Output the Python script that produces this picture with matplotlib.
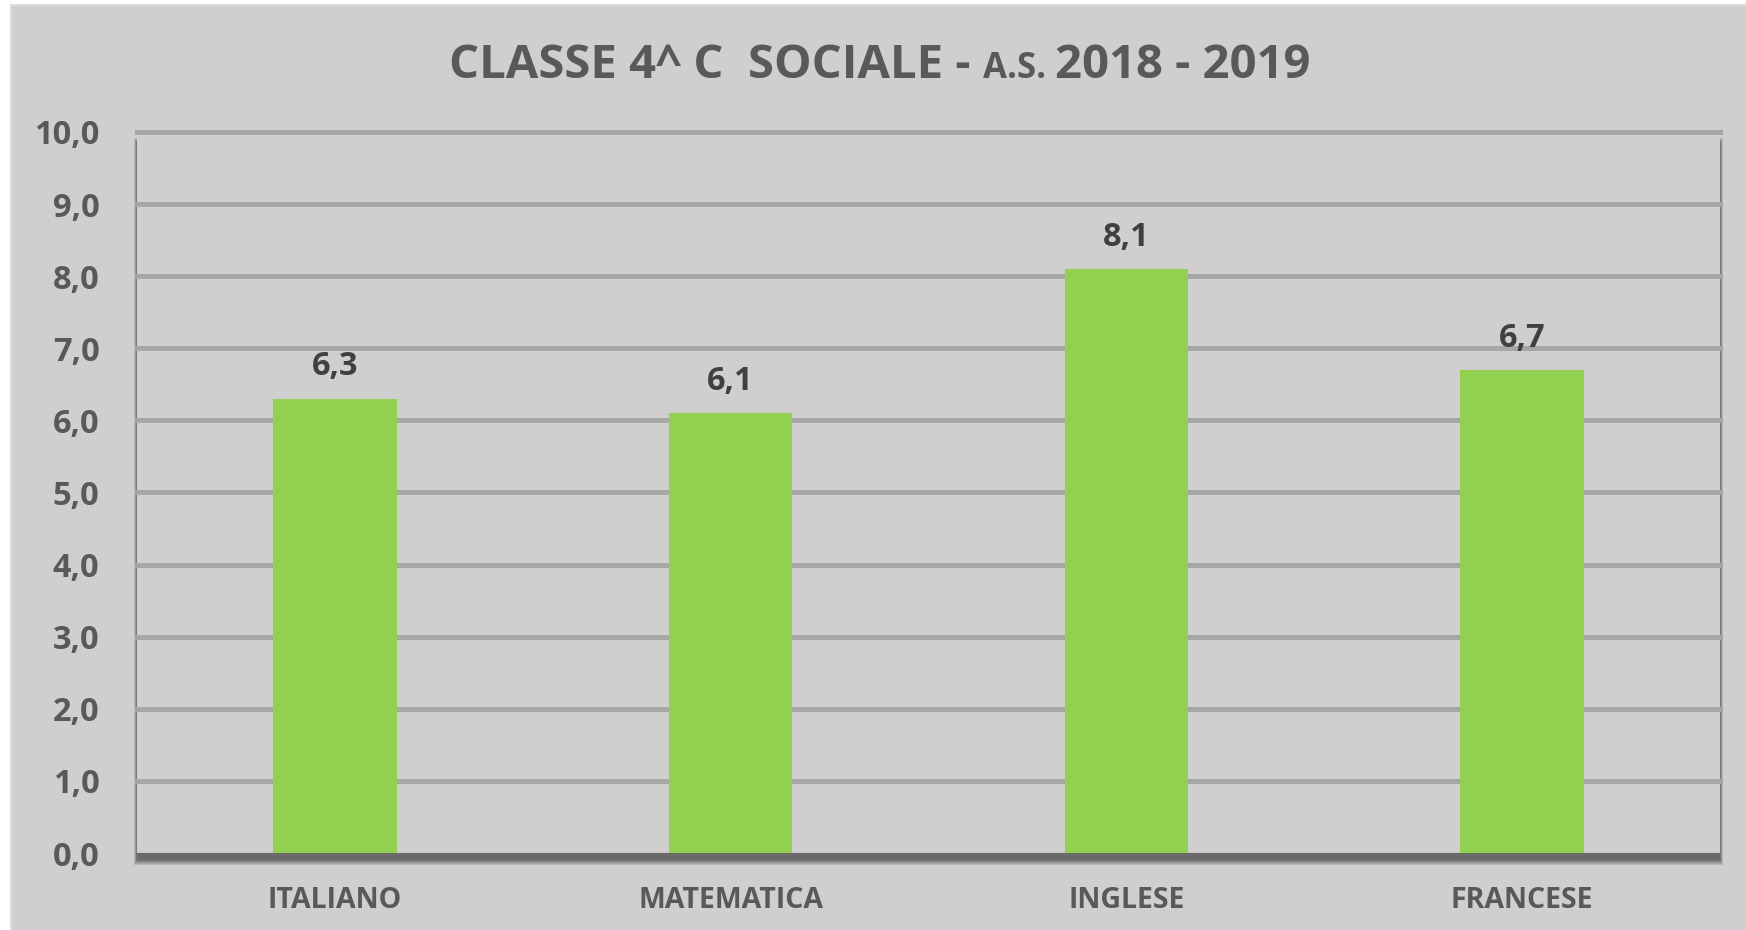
import matplotlib
matplotlib.use("Agg")
import matplotlib.pyplot as plt
from matplotlib.patches import Rectangle
from matplotlib.transforms import IdentityTransform

categories = ["ITALIANO", "MATEMATICA", "INGLESE", "FRANCESE"]
values = [6.3, 6.1, 8.1, 6.7]
yticks = [0, 1, 2, 3, 4, 5, 6, 7, 8, 9, 10]

BG = "#d0cecf"
TXT = "#595959"
VAL = "#404040"
BAR = "#92d050"
GRID = "#a6a6a6"
FONT = "Open Sans"
FW, FH = 1746, 930

def fmt(v):
    return f"{v:.1f}".replace(".", ",")

fig = plt.figure(figsize=(FW / 100, FH / 100), dpi=100, facecolor="white")

# chart area background with light border
fig.patches.append(Rectangle((11, -5), FW, FH, transform=IdentityTransform(),
                             facecolor=BG, edgecolor="#dedcdd", lw=1.5, zorder=-10))

# plot area in image pixels
L, R, T, B = 137, 1720, 132, 853

# soft drop shadow (layers)
for k in range(6):
    ex = 0.6 * k
    fig.patches.append(Rectangle((L - ex, FH - (B + 7) - k), (R - L) + 2 * ex,
                                 (B - T) - 4 + 2 * k, transform=IdentityTransform(),
                                 facecolor="black", alpha=0.10, edgecolor="none", zorder=-9))

ax = fig.add_axes([L / FW, 1 - B / FH, (R - L) / FW, (B - T) / FH])
ax.set_facecolor(BG)
ax.set_axisbelow(True)

x = list(range(len(categories)))
ax.bar(x, values, width=0.312, color=BAR, zorder=3)

for xi, v in zip(x, values):
    ax.annotate(fmt(v), (xi, v), xytext=(0, 11), textcoords="offset points",
                ha="center", va="bottom", fontsize=23.5, fontweight="bold",
                color=VAL, family=FONT, zorder=4)

ax.set_xlim(-0.5, len(categories) - 0.5)
ax.set_ylim(0, 10)
ax.set_yticks(yticks)
ax.set_yticklabels([fmt(t) for t in yticks], fontsize=23.5, fontweight="bold",
                   color=TXT, family=FONT)
ax.set_xticks(x)
ax.set_xticklabels(categories, fontsize=20.5, fontweight="bold", color=TXT, family=FONT)
ax.tick_params(axis="both", length=0)
ax.tick_params(axis="y", pad=27)
ax.tick_params(axis="x", pad=24)

for t in yticks[1:]:
    ax.axhline(t, color=GRID, lw=3.6, zorder=1, clip_on=False)
ax.axhline(0, color="#c4c4c4", lw=1.5, zorder=2)

for s in ax.spines.values():
    s.set_visible(False)

# title with small-caps "A.S."
renderer = fig.canvas.get_renderer()
parts = [("CLASSE 4^ C  SOCIALE - ", 34), ("A.S. ", 25), ("2018 - 2019", 34)]
widths = []
texts = []
for s, fs in parts:
    tt = fig.text(0, 0.9, s, fontsize=fs, fontweight="bold", color=TXT,
                  family=FONT, va="baseline")
    texts.append(tt)
    widths.append(tt.get_window_extent(renderer).width)
total = sum(widths)
xs = 880 - total / 2
base_y = 1 - 78 / FH
for tt, w in zip(texts, widths):
    tt.set_position((xs / FW, base_y))
    xs += w

fig.savefig("out.png", dpi=100, facecolor="white")
